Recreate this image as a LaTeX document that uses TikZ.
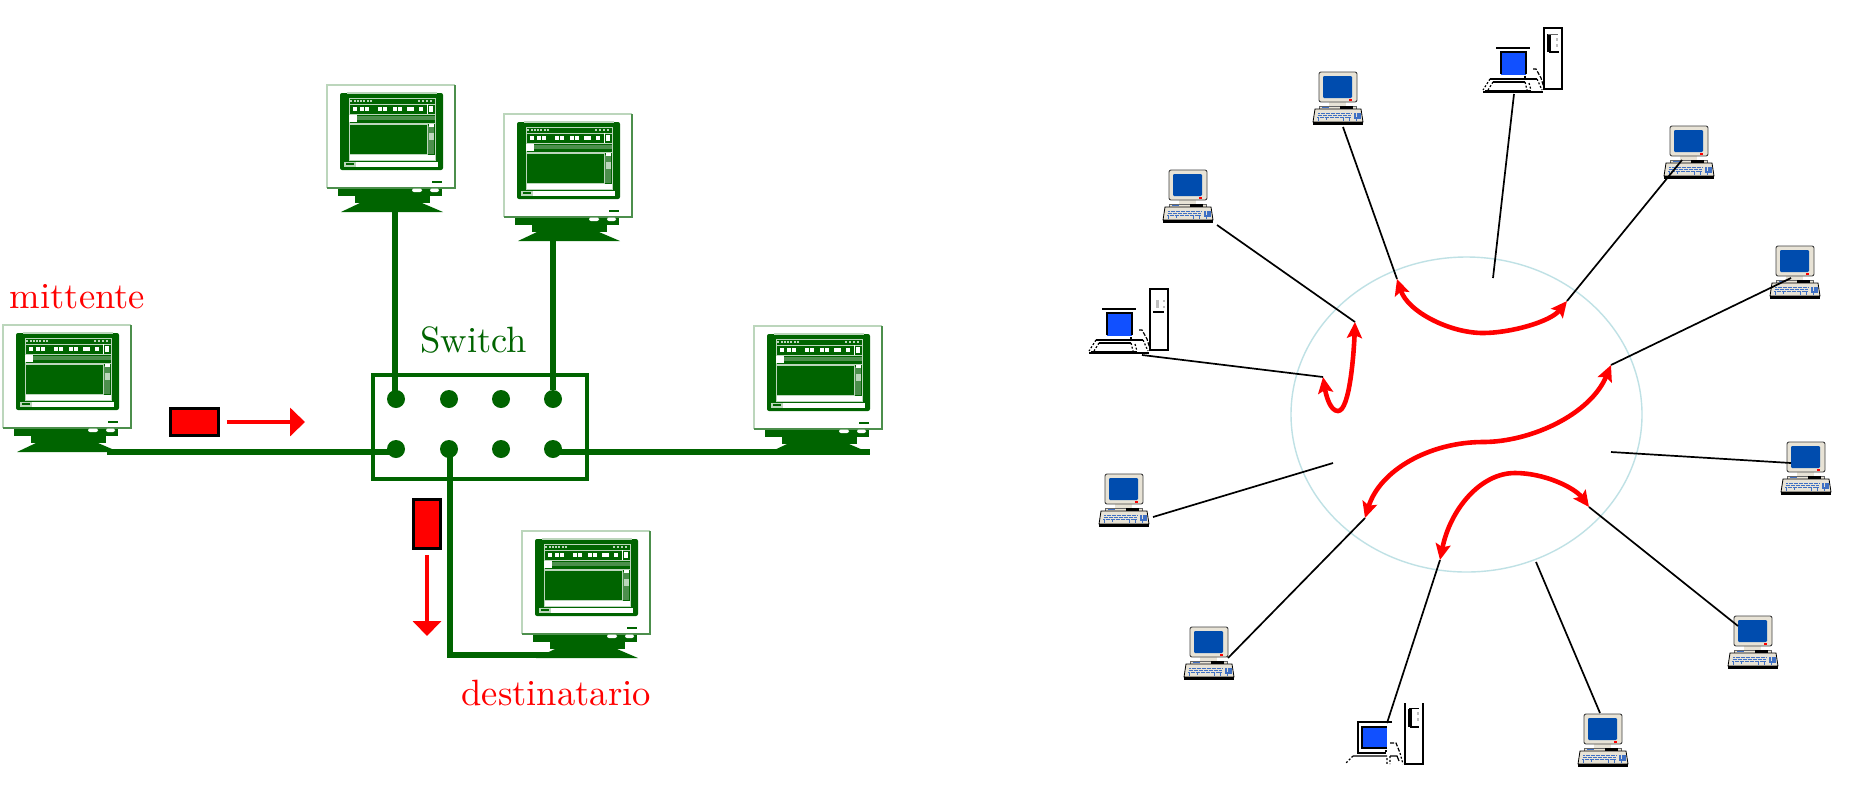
\documentclass[tikz,border=0pt]{standalone}
\usetikzlibrary{arrows.meta,shapes.geometric}
\definecolor{dkg}{HTML}{006400}
\definecolor{lgreen}{HTML}{BCD6BC}
\definecolor{mgreen}{HTML}{4C8F4C}
\definecolor{scrblue}{HTML}{004CAE}
\definecolor{twblue}{HTML}{1150FF}
\definecolor{caseg}{HTML}{E8E3D6}
\definecolor{keyblue}{HTML}{3F70C4}
\definecolor{ringc}{HTML}{BFE1E5}
\newcommand{\labtxt}[1]{\scalebox{1.83}{#1}}
\tikzset{
  x=0.5pt,y=-0.5pt,
  glink/.style={draw=dkg,line width=3.2pt},
  port/.style={circle,fill=dkg,inner sep=0pt,minimum size=9pt},
  swbox/.style={draw=dkg,line width=2pt,minimum width=107pt,minimum height=52pt,inner sep=0pt},
  packet/.style={draw=black,line width=1.3pt,fill=red,inner sep=0pt},
  flow/.style={draw=red,line width=2.2pt,-{Triangle[length=7.5pt,width=14pt]}},
  wire/.style={draw=black,line width=.85pt},
  xfer/.style={draw=red,line width=2.3pt,{Stealth[length=8pt,width=7.5pt,inset=1.5pt]}-{Stealth[length=8pt,width=7.5pt,inset=1.5pt]}},
  lab/.style={anchor=base west,inner sep=0pt,font=\fontsize{10}{12}\selectfont},
  crt/.pic={
    \fill[white] (0,0) rectangle (128,103);
    \draw[lgreen,line width=1pt] (128,0) -- (0,0) -- (0,103);
    \draw[mgreen,line width=1pt] (128,0) -- (128,103) -- (0,103);
    \fill[dkg,rounded corners=1pt] (13,8) rectangle (116,85);
    \draw[lgreen,line width=.6pt] (20,8) -- (110,8);
    % window frame
    \draw[lgreen,line width=.5pt] (22,13) rectangle (108,75);
    \draw[lgreen,line width=.5pt] (22,19) -- (108,19) (22,29) -- (108,29) (22,38) -- (108,38) (100,38) -- (100,70);
    \draw[mgreen,line width=1.6pt] (30,33) -- (108,33);
    \fill[white] (22,30) rectangle (30,37);
    \foreach \k in {23,27,30,33,36,40,43,91,95,99,103}{\fill[lgreen] (\k,14.5) rectangle +(2.4,2.4);}
    \foreach \k in {26,33,38,51,56,66,71,80,83,92}{\fill[white] (\k,21.5) rectangle +(3.6,4.5);}
    \draw[white,line width=.5pt] (100,19) -- (100,29);
    \fill[white] (102,21) rectangle (106,27);
    \draw[lgreen,line width=.5pt] (22,39) rectangle (100,69);
    \fill[white] (23,70) rectangle (108,75);
    \fill[mgreen] (101,41) rectangle (107,69);
    \fill[white] (102,39) rectangle (107,42);
    \fill[lgreen] (102,48) rectangle (107,55);
    \fill[white] (29,76.5) rectangle (111,82);
    \fill[lgreen] (17,76.5) rectangle (29,82);
    \fill[dkg] (19,78) rectangle (27,80);
    \fill[dkg] (105,96) rectangle (115,98.2);
    % stand
    \fill[dkg] (11,103.5) rectangle (115,111);
    \fill[white,rounded corners=1pt] (85,103.5) rectangle (95,107);
    \fill[white,rounded corners=1pt] (103,103.5) rectangle (112,107);
    \fill[dkg] (28,111) rectangle (103,118);
    \fill[dkg] (33,118) -- (14,127) -- (116,127) -- (95,118) -- cycle;
  },
  bluepc/.pic={
    \fill[caseg] (16,30) rectangle (33,34);
    \fill[caseg,draw=black!75,line width=.45pt,rounded corners=1pt] (6,0) rectangle (44,30);
    \fill[scrblue,rounded corners=.6pt] (10,4) rectangle (39,26);
    \fill[red] (36,27.4) rectangle (39,29);
    \fill[caseg,draw=black!60,line width=.3pt] (6,34) rectangle (43,37);
    \fill[black] (27,34) rectangle (40,37);
    \fill[keyblue] (9,35) rectangle (16,36);
    \fill[caseg,draw=black,line width=.4pt] (2,37) -- (48,37) -- (50,50) -- (0,50) -- cycle;
    \fill[black] (0,50) rectangle (50,52.5);
    \draw[keyblue,line width=.9pt,dash pattern=on 1pt off .25pt] (5,41.5) -- (38,41.5) (4.5,43.5) -- (38,43.5) (4,45.5) -- (38,45.5);
    \draw[keyblue,line width=.9pt,dash pattern=on 1pt off .3pt] (41,42) -- (48,42) (41,44) -- (48,44) (41,46) -- (48,46);
    \draw[keyblue,line width=.5pt] (5,45) -- (5,49) (13,45) -- (13,48) (30,45) -- (30,49) (36,45) -- (36,49) (43,45) -- (43,49);
  },
  towerpc/.pic={
    \fill[white] (61,0) rectangle (79,61);
    \draw[black,line width=.7pt] (61,0) rectangle (79,61);
    \draw[black,line width=.7pt] (13,20) -- (47,20);
    \fill[twblue,draw=black,line width=.6pt] (18,46) -- (18,24) -- (43,24) -- (43,46);
    \fill[twblue] (18,46) rectangle (43,46.4);
    \fill[black] (40.5,48.2) rectangle (42.5,50.2);
    \draw[black,line width=.6pt,dash pattern=on 2pt off .8pt] (50,41) -- (53,41) -- (58,50) -- (61,60);
    \draw[black,line width=.6pt] (7,51) -- (54,51) (10,54) -- (42,54) (2,62.5) -- (48,62.5);
    \draw[black,line width=.7pt] (0,64) -- (60,64);
    \draw[black,line width=.6pt,dash pattern=on 1pt off .9pt] (7,51) -- (0,62) (10,54) -- (5,62) (54,51) -- (59,62) (42,54) -- (44,62) (46,55) -- (48,62);
  },
  towerL/.pic={
    \draw[black,line width=.6pt] (65,6) -- (65,24) (67,6) -- (67,24) -- (76,24);
    \draw[black!60,line width=.5pt] (65,6) -- (75,6);
    \fill[black!25] (73,10) rectangle (75,13);
    \fill[black!25] (73,16) rectangle (75,19);
  },
  towerM/.pic={
    \draw[black,line width=.6pt] (64,23) -- (75,23);
    \fill[black!25] (67,11) rectangle (70,19);
    \fill[black!25] (74,11) rectangle (75.5,13);
    \fill[black!25] (74,17) rectangle (75.5,19);
    \draw[black,line width=.9pt] (79,0) -- (79,61);
  },
  towerB/.pic={
    \draw[black,line width=.7pt] (61,0) -- (61,61) -- (79,61) -- (79,0);
    \draw[black,line width=.6pt] (65,5.5) -- (75,5.5) (65,5.5) -- (65,24) (67,5.5) -- (67,24) -- (75,24);
    \fill[black!25] (73,9) rectangle (75,12);
    \fill[black!25] (73,15) rectangle (75,18);
    \draw[black,line width=.7pt] (48,19) -- (14,19) -- (14,50) -- (42,50);
    \fill[twblue,draw=black,line width=.6pt] (43,45) -- (18,45) -- (18,24) -- (43,24);
    \fill[black] (41,47.2) rectangle (43,49.2);
    \draw[black,line width=.6pt] (9,53) -- (43,53) (46,53) -- (53,53) -- (55,58);
    \draw[black,line width=.6pt,dash pattern=on 1pt off .9pt] (9,53) -- (1,61) (46,53) -- (46,61) (43,55) -- (43,61) (56,50) -- (59,61);
    \draw[black,line width=.6pt,dash pattern=on 2pt off .8pt] (46,40) -- (52,40) -- (56,50);
  },
}
\begin{document}
\begin{tikzpicture}
\path[use as bounding box,fill=white] (0,0) rectangle (1859,789);
% --- left: switch ---
\pic (crtL) at (3,325) {crt};
\pic (crtA) at (327,85) {crt};
\pic (crtB) at (504,114) {crt};
\pic (crtR) at (754,326) {crt};
\pic (crtD) at (522,531) {crt};
\node[swbox] (sw) at (480,427) {};
\node[port] (p1) at (396,399) {};
\node[port] (p2) at (449,399) {};
\node[port] (p3) at (501,399) {};
\node[port] (p4) at (553,399) {};
\node[port] (p5) at (396,449) {};
\node[port] (p6) at (449,449) {};
\node[port] (p7) at (501,449) {};
\node[port] (p8) at (553,449) {};
\coordinate (cA) at (395,210);
\coordinate (cB) at (553,240);
\coordinate (cL) at (107,452);
\coordinate (cR) at (870,452);
\coordinate (cD) at (578,655);
\coordinate (cT) at (450,655);
\draw[glink] (cA) -- (cA |- p1);
\draw[glink] (cB) -- (p4);
\draw[glink,line width=3pt] (cL) -- (cL -| p5);
\draw[glink,line width=3pt] (cL -| p8) -- (cR);
\draw[glink,line join=miter] (p6.center -| cT) -- (cT) -- (cD);
\node[packet,minimum width=24pt,minimum height=13.5pt] (pktA) at (194.5,422) {};
\node[packet,minimum width=13.5pt,minimum height=24.5pt] (pktB) at (427,524) {};
\coordinate (tipA) at (305,422);
\coordinate (tipB) at (427,636);
\draw[flow] ([xshift=3.5pt]pktA.east) -- (tipA);
\draw[flow] ([yshift=-2.5pt]pktB.south) -- (tipB);
\node[lab,text=red] (tm) at (9.5,308) {\labtxt{mittente}};
\node[lab,text=dkg] (ts) at (420,352) {\labtxt{Switch}};
\node[lab,text=red] (td) at (461,705) {\labtxt{destinatario}};
% --- right: ring ---
\node[draw=ringc,line width=.7pt,ellipse,minimum width=175.5pt,minimum height=157.5pt,inner sep=0pt] (ringn) at (1466.5,414.5) {};
\pic (pc1) at (1313,72) {bluepc};
\pic (pc2) at (1163,170) {bluepc};
\pic (pc3) at (1099,474) {bluepc};
\pic (pc4) at (1184,627) {bluepc};
\pic (pc5) at (1578,714) {bluepc};
\pic (pc6) at (1728,616) {bluepc};
\pic (pc7) at (1781,442) {bluepc};
\pic (pc8) at (1770,246) {bluepc};
\pic (pc9) at (1664,126) {bluepc};
\pic (tw1) at (1483,28) {towerpc};
\pic (tw1d) at (1483,28) {towerL};
\pic (tw2) at (1089,289) {towerpc};
\pic (tw2d) at (1089,289) {towerM};
\pic (tw3) at (1344,703) {towerB};
\coordinate (a1) at (1343,127);  \coordinate (b1) at (1397,279);
\coordinate (a2) at (1514,94);   \coordinate (b2) at (1493,278);
\coordinate (a3) at (1682,160);  \coordinate (b3) at (1567,301);
\coordinate (a4) at (1791,278);  \coordinate (b4) at (1611,365);
\coordinate (a5) at (1791,463);  \coordinate (b5) at (1611,452);
\coordinate (a6) at (1738,626);  \coordinate (b6) at (1589,507);
\coordinate (a7) at (1600,713);  \coordinate (b7) at (1536,562);
\coordinate (a8) at (1387,723);  \coordinate (b8) at (1440,560);
\coordinate (a9) at (1228,658);  \coordinate (b9) at (1365,518);
\coordinate (a10) at (1153,517); \coordinate (b10) at (1333,463);
\coordinate (a11) at (1142,355); \coordinate (b11) at (1323,377);
\coordinate (a12) at (1217,225); \coordinate (b12) at (1355,322);
\foreach \i in {1,...,12}{\draw[wire] (a\i) -- (b\i);}
\draw[xfer] (b1) .. controls (1408,312) and (1450,333) .. (1483,333) .. controls (1510,333) and (1550,322) .. (b3);
\draw[xfer] (b12) .. controls (1354,350) and (1350,411) .. (1338,411) .. controls (1330,411) and (1326,395) .. (b11);
\draw[xfer] (b4) .. controls (1590,415) and (1530,442) .. (1483,442) .. controls (1430,442) and (1380,470) .. (b9);
\draw[xfer] (b8) .. controls (1450,510) and (1480,473) .. (1515,473) .. controls (1545,473) and (1575,488) .. (b6);
\end{tikzpicture}
\end{document}
